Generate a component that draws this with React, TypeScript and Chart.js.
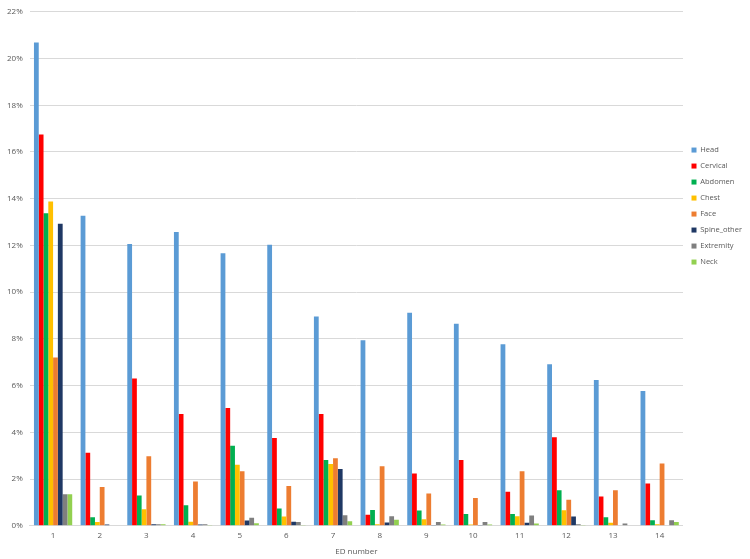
import React, { useEffect, useRef } from "react";
import { Chart, registerables } from "chart.js";

Chart.register(...registerables);

const categories = ["1", "2", "3", "4", "5", "6", "7", "8", "9", "10", "11", "12", "13", "14"];

const head = [20.69, 13.27, 12.06, 12.57, 11.67, 12.03, 8.96, 7.94, 9.12, 8.65, 7.77, 6.91, 6.24, 5.77];
const cervical = [16.75, 3.13, 6.31, 4.78, 5.04, 3.76, 4.78, 0.47, 2.24, 2.82, 1.46, 3.79, 1.25, 1.81];
const abdomen = [13.38, 0.37, 1.3, 0.88, 3.43, 0.74, 2.82, 0.68, 0.65, 0.5, 0.5, 1.52, 0.37, 0.24];
const chest = [13.88, 0.16, 0.71, 0.17, 2.61, 0.4, 2.65, 0.07, 0.28, 0.06, 0.41, 0.67, 0.13, 0.07];
const face = [7.2, 1.66, 2.98, 1.9, 2.34, 1.7, 2.89, 2.55, 1.38, 1.19, 2.34, 1.11, 1.52, 2.67];
const spineOther = [12.93, 0.06, 0.07, 0.06, 0.23, 0.17, 2.43, 0.14, 0.03, 0.03, 0.13, 0.4, 0, 0];
const extremity = [1.35, 0, 0.07, 0.07, 0.34, 0.16, 0.45, 0.41, 0.16, 0.16, 0.44, 0.07, 0.1, 0.24];
const neck = [1.35, 0, 0.07, 0.03, 0.11, 0.03, 0.2, 0.26, 0.06, 0.06, 0.1, 0.03, 0, 0.16];

const seriesNames = ["Head", "Cervical", "Abdomen", "Chest", "Face", "Spine_other", "Extremity", "Neck"];
const seriesColors = ["#5B9BD5", "#FF0000", "#00B050", "#FFC000", "#ED7D31", "#1F3864", "#7F7F7F", "#92D050"];
const seriesValues = [head, cervical, abdomen, chest, face, spineOther, extremity, neck];

const yTicks = [0, 2, 4, 6, 8, 10, 12, 14, 16, 18, 20, 22];
const xTitle = "ED number";

export default function App() {
  const canvasRef = useRef<HTMLCanvasElement | null>(null);

  useEffect(() => {
    document.body.style.margin = "0";
    const canvas = canvasRef.current;
    if (!canvas) return;
    const font = "'Open Sans', 'DejaVu Sans', sans-serif";
    const chart = new Chart(canvas, {
      type: "bar",
      data: {
        labels: categories,
        datasets: seriesNames.map((name, i) => ({
          label: name,
          data: seriesValues[i],
          backgroundColor: seriesColors[i],
          borderWidth: 0,
          categoryPercentage: 0.82,
          barPercentage: 1,
        })),
      },
      options: {
        responsive: false,
        animation: false,
        layout: { padding: { top: -1, right: -2, left: 0, bottom: 2 } },
        plugins: {
          tooltip: { enabled: false },
          legend: {
            position: "right",
            align: "start",
            title: {
              display: true,
              text: " ",
              padding: { top: 128, bottom: 0 },
              font: { size: 9, family: font },
            },
            labels: {
              boxWidth: 5,
              boxHeight: 5,
              padding: 8.5,
              color: "#595959",
              font: { size: 7.5, family: font },
            },
          },
        },
        scales: {
          x: {
            grid: { display: false, drawTicks: false },
            border: { display: true, color: "#D9D9D9" },
            ticks: { color: "#595959", font: { size: 8, family: font }, padding: 5 },
            title: {
              display: true,
              text: xTitle,
              color: "#595959",
              font: { size: 8, family: font },
              padding: { top: 2, bottom: 0 },
            },
          },
          y: {
            min: 0,
            max: 22,
            afterBuildTicks: (axis: any) => {
              axis.ticks = yTicks.map((v) => ({ value: v }));
            },
            grid: { color: "#D9D9D9", drawTicks: false },
            border: { display: false },
            ticks: {
              color: "#595959",
              font: { size: 8, family: font },
              padding: 7,
              callback: (v: any) => `${v}%`,
            },
          },
        },
      },
    });
    return () => chart.destroy();
  }, []);

  return (
    <div style={{ width: 750, height: 559 }}>
      <canvas ref={canvasRef} width={750} height={559} style={{ display: "block" }} />
    </div>
  );
}
